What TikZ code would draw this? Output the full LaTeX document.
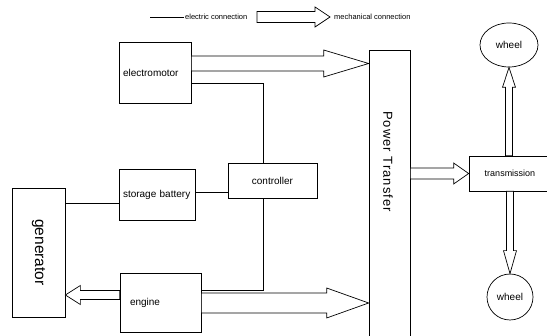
\documentclass[tikz,border=0pt]{standalone}
\usepackage{fontspec}
\setmainfont{Liberation Sans}
\usepackage{graphicx}
\usetikzlibrary{calc,shapes.geometric}

\tikzset{
  blk/.style={draw, rectangle, line width=0.7pt, inner sep=0pt, font=\fontsize{10}{12}\selectfont},
  whl/.style={draw, ellipse, line width=0.7pt, inner sep=0pt, font=\fontsize{10}{12}\selectfont},
  elec/.style={line width=0.7pt},
  mech/.style={line width=0.7pt, fill=white, line join=miter},
  legtxt/.style={anchor=west, inner sep=1pt, font=\fontsize{7.5}{9}\selectfont},
}

% 空心箭头：起点，终点，半杆宽，半头宽，头长
\newcommand{\mecharrow}[5]{%
  \draw[mech] ($(#1)!#3!90:(#2)$) -- ($(#2)!#5!(#1)!#3!-90:(#1)$)
    -- ($(#2)!#5!(#1)!#4!-90:(#1)$) -- (#2)
    -- ($(#2)!#5!(#1)!#4!90:(#1)$) -- ($(#2)!#5!(#1)!#3!90:(#1)$)
    -- ($(#1)!#3!-90:(#2)$) -- cycle;}

\begin{document}
\begin{tikzpicture}[x=1pt, y=-1pt]
    \useasboundingbox (0,0) rectangle (547,336);

    % === 图例 ===
    \coordinate (legE) at (150,17);
    \node[legtxt] (elabel) at (184,17) {electric connection};
    \draw[elec] (legE) -- (elabel.west);
    \coordinate (legA) at (257,17);
    \coordinate (legB) at (330,17);
    \mecharrow{legA}{legB}{5.5pt}{10pt}{15pt}
    \node[legtxt] (mlabel) at (333,17) {mechanical connection};

    % === 各部件 ===
    \node[blk, text width=64pt, align=left, inner xsep=4pt, minimum height=61pt] (em) at (155,72.5) {electromotor};
    \node[blk, text width=68pt, align=left, inner xsep=4pt, minimum height=51pt] (bat) at (157,194.5) {storage battery};
    \node[blk, text width=61pt, align=left, inner xsep=10pt, minimum height=59pt] (eng) at (160.5,302.5) {engine};
    \node[blk, minimum width=89pt, minimum height=35pt] (ctrl) at (272.5,180.5) {controller};
    \node[blk, minimum width=53pt, minimum height=129pt, font=\fontsize{15.5}{18}\selectfont] (gen) at (38.5,252.5) {\rotatebox{-90}{generator}};
    \node[blk, minimum width=41pt, minimum height=290pt] (pt) at (389.5,195) {};
    \node[rotate=-90, inner sep=0pt, font=\fontsize{13}{15}\selectfont\addfontfeatures{LetterSpace=8}] (ptlabel) at (388,161.5) {Power Transfer};
    \node[blk, minimum width=82pt, minimum height=35pt, font=\fontsize{9}{11}\selectfont] (tr) at (510,173.5) {transmission};
    \node[whl, minimum width=58pt, minimum height=44pt] (w1) at (509,45) {wheel};
    \node[whl, minimum width=46pt, minimum height=46pt] (w2) at (510,297) {wheel};

    % === 电气连接 ===
    \draw[elec] ($(em.east)+(0,10.5)$) -| ($(ctrl.north)+(-9.5,0)$);
    \draw[elec] ($(ctrl.south)+(-9.5,0)$) |- ($(eng.east)+(0,-12.5)$);
    \coordinate (batR) at ($(bat.east)+(0,-2.5)$);
    \draw[elec] (batR) -- (ctrl.west |- batR);
    \coordinate (batL) at ($(bat.west)+(0,8.5)$);
    \draw[elec] (gen.east |- batL) -- (batL);

    % === 机械连接 ===
    \coordinate (emR) at ($(em.east)+(0,-9)$);
    \coordinate (ptU) at (pt.west |- emR);
    \mecharrow{emR}{ptU}{7.5pt}{13.5pt}{45pt}
    \coordinate (engR) at ($(eng.east)+(0,0.5)$);
    \coordinate (ptD) at (pt.west |- engR);
    \mecharrow{engR}{ptD}{10pt}{15pt}{42pt}
    \coordinate (engL) at ($(eng.west)+(0,-7.5)$);
    \coordinate (genR) at (gen.east |- engL);
    \mecharrow{engL}{genR}{4.5pt}{9.5pt}{15pt}
    \coordinate (ptR) at (pt.east |- tr.west);
    \mecharrow{ptR}{tr.west}{5.5pt}{10.5pt}{15pt}
    \coordinate (trU) at (w1.south |- tr.north);
    \mecharrow{trU}{w1.south}{3.5pt}{6.5pt}{20pt}
    \coordinate (trD) at (w2.north |- tr.south);
    \mecharrow{trD}{w2.north}{3.5pt}{6.5pt}{23pt}
\end{tikzpicture}
\end{document}
